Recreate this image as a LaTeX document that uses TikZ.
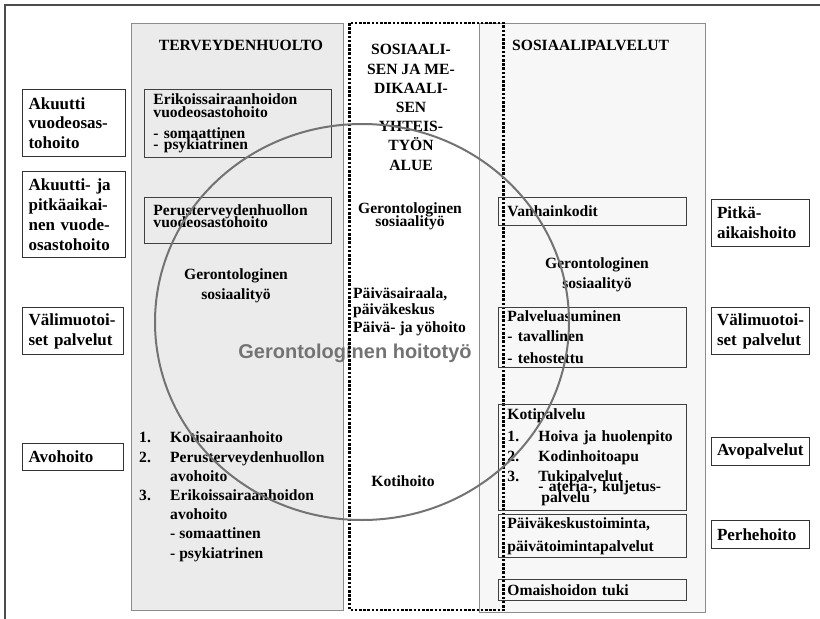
\documentclass[tikz,border=0pt]{standalone}
\usepackage{fontspec}
\setmainfont{Liberation Serif}
\newfontfamily\grayfont{Liberation Sans}
\usepackage{tikz}
\usetikzlibrary{positioning}

\newcommand{\smallbf}{\fontsize{15.6}{19.2}\selectfont\bfseries\hyphenpenalty=10000 }
\newcommand{\bigbf}{\fontsize{17}{19.8}\selectfont\bfseries\hyphenpenalty=10000 }
\newcommand{\numitem}[1]{\makebox[31pt][l]{#1}}

\tikzset{
  outerbox/.style={draw=black!80, line width=1.1pt, anchor=north west, align=left,
    inner xsep=6pt, inner ysep=0pt, font=\bigbf},
  innerbox/.style={draw=black!75, line width=0.9pt, anchor=north west, align=left,
    inner xsep=9pt, inner ysep=0pt, font=\smallbf},
  txt/.style={font=\smallbf, align=center, anchor=base, inner sep=0pt},
  panelL/.style={draw=black!45, fill=black!8, line width=0.8pt},
  panelR/.style={draw=black!45, fill=black!3, line width=0.8pt},
  zone/.style={draw=black, line width=2.8pt, dash pattern=on 2.6pt off 1.6pt},
  ring/.style={draw=black!55, line width=2pt},
  frame/.style={draw=black!70, line width=1.2pt},
}

\begin{document}
\begin{tikzpicture}[x=1pt, y=-1pt]
\useasboundingbox (0,0) rectangle (820,619);
\draw[frame] (820,5) -- (5,5) -- (5,619);

% columns
\draw[panelL] (131,23) rectangle (343,610);
\draw[panelR] (479,23) rectangle (705,612);
\node[font={\grayfont\fontsize{20}{24}\selectfont\bfseries}, text=black!55, anchor=base, inner sep=0pt]
  (hoitotyo) at (355,358) {Gerontologinen hoitotyö};
\draw[zone] (349.5,23) rectangle (503.5,610);

% multi-line texts are placed by their last baseline
\node[txt] (terv) at (241,50) {TERVEYDENHUOLTO};
\node[txt, anchor=base west] (sospalv) at (512,50) {SOSIAALIPALVELUT};
\node[txt] (yhteis) at (411,170) {SOSIAALI-\\SEN JA ME-\\DIKAALI-\\SEN\\YHTEIS-\\TYÖN\\ALUE};

% left side
\node[outerbox, text width=91pt, minimum height=67pt] (akuutti) at (22,89) {Akuutti\\vuodeosas-\\tohoito};
\node[outerbox, text width=91pt, minimum height=86pt] (akupitka) at (22,171) {Akuutti- ja\\pitkäaikai-\\nen vuode-\\osastohoito};
\node[outerbox, text width=89pt, minimum height=47pt] (valiL) at (22,307) {Välimuotoi-\\set palvelut};
\node[outerbox, text width=89pt, minimum height=27pt] (avohoito) at (22,443) {Avohoito};

% terveydenhuolto
\node[innerbox, text width=169pt, minimum height=68pt] (erikois) at (144,89)
  {Erikoissairaanhoidon\\[-6.7pt]vuodeosastohoito\\[1.8pt]- somaattinen\\[-8.2pt]- psykiatrinen};
\node[innerbox, text width=169pt, minimum height=46pt] (perus) at (144,197)
  {Perusterveydenhuollon\\[-6.7pt]vuodeosastohoito\\[-10pt]\mbox{}};
\node[txt] (gerosL) at (236,299) {Gerontologinen\\sosiaalityö};
\node[txt, align=left, anchor=base west] (avolista) at (139,558)
  {\numitem{1.}Kotisairaanhoito\\\numitem{2.}Perusterveydenhuollon\\\numitem{}avohoito\\
   \numitem{3.}Erikoissairaanhoidon\\\numitem{}avohoito\\\numitem{}- somaattinen\\\numitem{}- psykiatrinen};

% yhteistyon alue
\node[txt] (gerosM) at (410,226) {Gerontologinen\\[-6.2pt]sosiaalityö};
\node[txt, align=left, anchor=base west] (paivasair) at (353,332)
  {Päiväsairaala,\\[-3.2pt]päiväkeskus\\[-1.2pt]Päivä- ja yöhoito};
\node[txt] (kotihoito) at (403,486) {Kotihoito};

% sosiaalipalvelut
\node[innerbox, text width=170pt, minimum height=28pt] (vanhain) at (498,197) {Vanhainkodit};
\node[txt] (gerosR) at (597,288) {Gerontologinen\\sosiaalityö};
\node[innerbox, text width=170pt, minimum height=60pt] (palvas) at (498,307)
  {Palveluasuminen\\[0.8pt]- tavallinen\\[2.8pt]- tehostettu};
\node[innerbox, text width=170pt, minimum height=106pt] (kotipalv) at (498,404)
  {Kotipalvelu\\[2.8pt]\numitem{1.}Hoiva ja huolenpito\\[0.8pt]\numitem{2.}Kodinhoitoapu\\[0.8pt]%
   \numitem{3.}Tukipalvelut\\[-9.2pt]\numitem{}- ateria-, kuljetus-\\[-8.2pt]\hspace*{34pt}palvelu};
\node[innerbox, text width=170pt, minimum height=43pt] (paivak) at (498,514)
  {Päiväkeskustoiminta,\\[3.8pt]päivätoimintapalvelut};
\node[innerbox, text width=170pt, minimum height=21pt] (omais) at (498,579) {Omaishoidon tuki};

% right side
\node[outerbox, inner xsep=5.5pt, text width=87pt, minimum height=47pt] (pitka) at (711,199) {Pitkä-\\aikaishoito};
\node[outerbox, inner xsep=5.5pt, text width=87pt, minimum height=47pt] (valiR) at (711,307) {Välimuotoi-\\set palvelut};
\node[outerbox, inner xsep=5.5pt, text width=87pt, minimum height=28pt] (avopalv) at (711,437) {Avopalvelut};
\node[outerbox, inner xsep=5.5pt, text width=87pt, minimum height=28pt] (perhe) at (711,520) {Perhehoito};

\draw[ring] (362,322) ellipse [x radius=207pt, y radius=198pt];
\end{tikzpicture}
\end{document}
